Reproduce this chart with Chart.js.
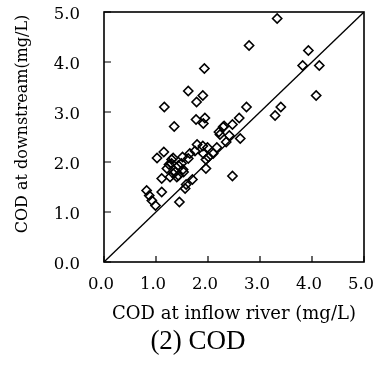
<!DOCTYPE html>
<html>
<head>
<meta charset="utf-8">
<script src="https://cdn.jsdelivr.net/npm/chart.js@4"></script>
<style>
html,body{margin:0;padding:0;background:#fff;}
#wrap{width:377px;height:376px;position:relative;}
</style>
</head>
<body>
<div id="wrap"><canvas id="c"></canvas></div>
<script>
// COD at inflow river (mg/L)
const inflowCOD = [3.33,2.79,3.93,3.82,4.14,1.93,1.62,4.08,1.90,1.78,3.40,2.74,1.16,3.29,2.60,1.94,1.77,1.91,1.35,2.47,2.29,2.21,2.41,2.62,2.35,2.47,1.79,1.90,1.99,2.17,2.10,1.91,1.96,1.96,1.75,1.65,1.15,1.02,1.33,1.51,1.30,1.43,1.21,1.33,1.43,1.53,1.11,1.27,1.11,0.82,0.87,0.92,0.99,1.58,1.56,1.70,1.45,1.62,1.49,1.40,2.01,2.23,1.30,1.37,2.31,1.52,1.25];
// COD at downstream (mg/L)
const downstreamCOD = [4.87,4.33,4.23,3.93,3.93,3.87,3.42,3.33,3.33,3.20,3.10,3.10,3.10,2.93,2.88,2.88,2.85,2.77,2.71,2.75,2.70,2.60,2.53,2.47,2.40,1.72,2.35,2.32,2.29,2.29,2.17,2.17,2.05,1.87,2.22,2.17,2.20,2.08,2.08,2.10,1.97,1.93,1.87,1.77,1.73,1.80,1.67,1.70,1.40,1.43,1.33,1.23,1.13,1.55,1.47,1.65,1.20,2.07,1.97,1.70,2.10,2.55,2.05,1.80,2.72,1.85,1.95];
// 1:1 reference line
const lineX = [0, 5];
const lineY = [0, 5];
const tickValues = [0, 1, 2, 3, 4, 5];
const xTitle = 'COD at inflow river (mg/L)';
const yTitle = 'COD at downstream(mg/L)';
const caption = '(2) COD';

const points = inflowCOD.map((x, i) => ({x: x, y: downstreamCOD[i]}));
const linePts = lineX.map((x, i) => ({x: x, y: lineY[i]}));

function zeroPad(s) { s.paddingLeft = 0; s.paddingRight = 0; s.paddingTop = 0; s.paddingBottom = 0; }

const framePlugin = {
  id: 'frame',
  afterDraw(chart) {
    const ctx = chart.ctx;
    const a = chart.chartArea;
    const xs = chart.scales.x, ys = chart.scales.y;
    ctx.save();
    ctx.strokeStyle = '#000';
    ctx.lineWidth = 1.6;
    ctx.strokeRect(a.left, a.top, a.right - a.left, a.bottom - a.top);
    ctx.lineWidth = 1.2;
    ctx.beginPath();
    tickValues.forEach(v => {
      const px = xs.getPixelForValue(v);
      ctx.moveTo(px, a.bottom);
      ctx.lineTo(px, a.bottom - 6);
      const py = ys.getPixelForValue(v);
      ctx.moveTo(a.left, py);
      ctx.lineTo(a.left + 7, py);
    });
    ctx.stroke();
    ctx.fillStyle = '#000';
    // y axis title
    ctx.save();
    ctx.translate(23, 124);
    ctx.rotate(-Math.PI / 2);
    ctx.font = '16px "DejaVu Serif"';
    ctx.textAlign = 'center';
    ctx.textBaseline = 'middle';
    ctx.fillText(yTitle, 0, 0);
    ctx.restore();
    // caption
    ctx.font = '27px "Liberation Serif"';
    ctx.textAlign = 'center';
    ctx.textBaseline = 'middle';
    ctx.fillText(caption, 198, 342);
    ctx.restore();
  }
};

new Chart(document.getElementById('c'), {
  type: 'scatter',
  data: {
    datasets: [
      {
        data: points,
        pointStyle: 'rectRot',
        pointRadius: 4.6,
        pointBorderWidth: 1.6,
        pointBorderColor: '#000',
        pointBackgroundColor: 'rgba(255,255,255,0)',
        showLine: false
      },
      {
        type: 'line',
        data: linePts,
        borderColor: '#000',
        borderWidth: 1.3,
        pointRadius: 0,
        fill: false
      }
    ]
  },
  options: {
    responsive: true,
    maintainAspectRatio: false,
    animation: false,
    devicePixelRatio: 1,
    layout: {padding: {top: 12, right: 13, left: 0, bottom: 50}},
    plugins: {legend: {display: false}, tooltip: {enabled: false}},
    scales: {
      x: {
        type: 'linear', min: 0, max: 5,
        afterBuildTicks: s => { s.ticks = tickValues.map(v => ({value: v})); },
        afterFit: s => { s.height = 64; zeroPad(s); },
        grid: {display: false, drawTicks: false},
        border: {display: false},
        ticks: {
          padding: 13,
          labelOffset: -3,
          color: '#000',
          font: {family: 'DejaVu Serif', size: 16.5},
          callback: v => Number(v).toFixed(1),
          maxRotation: 0
        },
        title: {
          display: true, text: xTitle, color: '#000',
          font: {family: 'DejaVu Serif', size: 18},
          padding: {top: 0, bottom: 1}
        }
      },
      y: {
        type: 'linear', min: 0, max: 5,
        afterBuildTicks: s => { s.ticks = tickValues.map(v => ({value: v})); },
        afterFit: s => { s.width = 104; zeroPad(s); },
        grid: {display: false, drawTicks: false},
        border: {display: false},
        ticks: {
          padding: 24,
          labelOffset: 3,
          color: '#000',
          font: {family: 'DejaVu Serif', size: 16.5},
          callback: v => Number(v).toFixed(1)
        }
      }
    }
  },
  plugins: [framePlugin]
});
</script>
</body>
</html>
